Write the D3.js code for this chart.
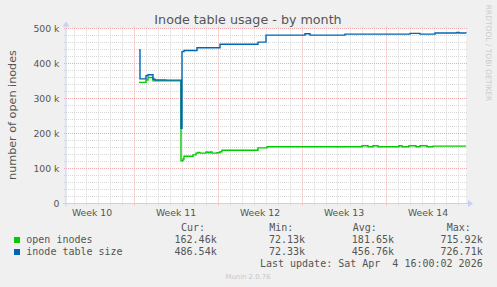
<!DOCTYPE html>
<html><head><meta charset="utf-8">
<script src="https://cdn.jsdelivr.net/npm/d3@7"></script>
<style>
html,body{margin:0;padding:0;background:#F0F0F0;}
svg{display:block;}
text{font-family:"DejaVu Sans",sans-serif;}
text.mono{font-family:"DejaVu Sans Mono",monospace;}
</style></head>
<body><svg id="c" width="497" height="287"></svg>
<script>
// ---- data ----
const title = "Inode table usage - by month";
const yLabel = "number of open inodes";
const timeDomain = ["2026-03-03T09:00:00Z", "2026-04-05T17:00:00Z"];
const weekLabelDates = ["2026-03-05T12:00:00Z","2026-03-12T12:00:00Z","2026-03-19T12:00:00Z","2026-03-26T12:00:00Z","2026-04-02T12:00:00Z"];
const weekLabels = ["Week 10","Week 11","Week 12","Week 13","Week 14"];
const yTicks = [0,100000,200000,300000,400000,500000];
const yTickLabels = ["0","100 k","200 k","300 k","400 k","500 k"];

const openTimes = ["2026-03-09T11:00Z","2026-03-10T01:00Z","2026-03-10T05:00Z","2026-03-10T15:00Z","2026-03-12T23:00Z","2026-03-13T03:00Z","2026-03-13T05:00Z","2026-03-13T23:00Z","2026-03-14T05:00Z","2026-03-14T09:00Z","2026-03-14T13:00Z","2026-03-15T01:00Z","2026-03-15T05:00Z","2026-03-15T09:00Z","2026-03-15T13:00Z","2026-03-15T23:00Z","2026-03-16T05:00Z","2026-03-16T09:00Z","2026-03-19T09:00Z","2026-03-20T03:00Z","2026-03-28T01:00Z","2026-03-28T13:00Z","2026-03-28T23:00Z","2026-03-29T09:00Z","2026-03-31T03:00Z","2026-03-31T09:00Z","2026-03-31T23:00Z","2026-04-01T13:00Z","2026-04-01T21:00Z","2026-04-02T11:00Z","2026-04-02T23:00Z","2026-04-05T17:00Z"];
const openValues = [346000,353000,360000,350500,122000,127000,135000,139000,144000,146000,144000,147000,145000,147000,144000,145000,148000,152000,159000,162000,165000,162000,165000,162000,165000,162000,165000,162000,165000,162000,164000,164000];

const sizeTimes = ["2026-03-09T11:00Z","2026-03-09T13:00Z","2026-03-10T01:00Z","2026-03-10T05:00Z","2026-03-10T15:00Z","2026-03-10T19:00Z","2026-03-11T17:00Z","2026-03-12T23:00Z","2026-03-13T01:00Z","2026-03-13T05:00Z","2026-03-14T07:00Z","2026-03-16T05:00Z","2026-03-19T09:00Z","2026-03-20T01:00Z","2026-03-23T07:00Z","2026-03-23T17:00Z","2026-03-26T15:00Z","2026-04-01T01:00Z","2026-04-01T21:00Z","2026-04-03T03:00Z","2026-04-04T23:00Z","2026-04-05T03:00Z","2026-04-05T17:00Z"];
const sizeValues = [439000,356000,365000,368000,355000,353000,352500,215000,434000,437000,445000,455000,461000,481000,485000,481000,484000,486000,484000,487000,489000,487000,486500];

const seriesNames = ["open inodes","inode table size"];
const seriesColors = ["#00CC00","#0066B3"];
const statHeaders = ["Cur:","Min:","Avg:","Max:"];
const statsOpen = ["162.46k","72.13k","181.65k","715.92k"];
const statsSize = ["486.54k","72.33k","456.76k","726.71k"];
const lastUpdate = "Last update: Sat Apr  4 16:00:02 2026";

// ---- drawing ----
const svg = d3.select("#c");
const L = 66, R = 466, T = 28.5, B = 203.5;
const x = d3.scaleUtc().domain(timeDomain.map(d=>new Date(d))).range([L,R]);
const y = d3.scaleLinear().domain([0,500000]).range([B,T]);

svg.append("rect").attr("x",L).attr("y",T).attr("width",R-L).attr("height",B-T).attr("fill","#ffffff");

const g = svg.append("g");
const minCol = "#d6d6d6", majCol = "#f0a8a8";
// minor grid
const days = d3.utcDay.range(x.domain()[0], x.domain()[1]).filter(d=>d.getUTCDay()!==1);
g.selectAll(".vmin").data(days).join("line")
  .attr("x1",d=>Math.round(x(d))+0.5).attr("x2",d=>Math.round(x(d))+0.5)
  .attr("y1",B+2).attr("y2",T-2).attr("stroke",minCol).attr("stroke-dasharray","1,1");
const minorY = d3.range(20000,500001,20000).filter(v=>v%100000!==0);
g.selectAll(".hmin").data(minorY).join("line")
  .attr("x1",L-2).attr("x2",R+2).attr("y1",d=>y(d)).attr("y2",d=>y(d))
  .attr("stroke",minCol).attr("stroke-dasharray","1,1");
// major grid
const mondays = d3.utcMonday.range(x.domain()[0], x.domain()[1]);
g.selectAll(".vmaj").data(mondays).join("line")
  .attr("x1",d=>Math.round(x(d))+0.5).attr("x2",d=>Math.round(x(d))+0.5)
  .attr("y1",B+2).attr("y2",T-2).attr("stroke",majCol).attr("stroke-dasharray","1,1");
g.selectAll(".hmaj").data(yTicks.filter(v=>v>0)).join("line")
  .attr("x1",L-2).attr("x2",R+2).attr("y1",d=>y(d)).attr("y2",d=>y(d))
  .attr("stroke",majCol).attr("stroke-dasharray","1,1");

// series
const line = d3.line().x(d=>x(d[0])).y(d=>y(d[1])).curve(d3.curveStepAfter);
const openData = openTimes.map((t,i)=>[new Date(t),openValues[i]]);
const sizeData = sizeTimes.map((t,i)=>[new Date(t),sizeValues[i]]);
svg.append("path").datum(openData).attr("d",line).attr("fill","none").attr("stroke",seriesColors[0]).attr("stroke-width",1.4);
svg.append("path").datum(sizeData).attr("d",line).attr("fill","none").attr("stroke",seriesColors[1]).attr("stroke-width",1.4);

// axes lines + arrows
const axCol = "#c8d0f6";
svg.append("line").attr("x1",L-3).attr("x2",R+3).attr("y1",B).attr("y2",B).attr("stroke",axCol);
svg.append("line").attr("x1",L).attr("x2",L).attr("y1",B+3).attr("y2",T-3).attr("stroke",axCol);
svg.append("path").attr("d",`M${R+2},${B-3.5}L${R+7},${B}L${R+2},${B+3.5}Z`).attr("fill",axCol);
svg.append("path").attr("d",`M${L-3.5},${T-2}L${L},${T-7}L${L+3.5},${T-2}Z`).attr("fill",axCol);

// axes (labels)
const xAxis = d3.axisBottom(x).tickValues(weekLabelDates.map(d=>new Date(d))).tickSize(0)
  .tickFormat((d,i)=>weekLabels[i]);
const xa = svg.append("g").attr("transform",`translate(0,${B})`).call(xAxis);
xa.select(".domain").remove();
xa.selectAll("text").attr("font-family","DejaVu Sans").attr("font-size","9.3px").attr("fill","#555").attr("dy",null).attr("y",12.5);

const yAxis = d3.axisLeft(y).tickValues(yTicks).tickSize(0).tickFormat((d,i)=>yTickLabels[i]);
const ya = svg.append("g").attr("transform",`translate(${L-6.5},0)`).call(yAxis);
ya.select(".domain").remove();
ya.selectAll("text").attr("font-family","DejaVu Sans").attr("font-size","9.3px").attr("fill","#555").attr("x",0).attr("dy","0.34em");

// title & labels
svg.append("text").attr("x",248).attr("y",24).attr("text-anchor","middle").attr("font-size","12.7px").attr("fill","#555").text(title);
svg.append("text").attr("transform","translate(15.5,115) rotate(-90)").attr("text-anchor","middle").attr("font-size","11.2px").attr("fill","#555").text(yLabel);
svg.append("text").attr("transform","translate(485.5,53) rotate(90)").attr("text-anchor","middle").attr("font-size","7.5px").attr("fill","#cccccc").text("RRDTOOL / TOBI OETIKER");

// legend
const hdrX = [181,269.3,352.7,446.7];
const valX = [216.7,305,394,482.7];
const lg = svg.append("g").attr("font-size","10px").attr("fill","#555");
statHeaders.forEach((h,i)=>lg.append("text").attr("class","mono").attr("x",hdrX[i]).attr("y",231).text(h));
[statsOpen,statsSize].forEach((row,r)=>{
  const yy = 243 + r*12;
  svg.append("rect").attr("x",14).attr("y",yy-6).attr("width",6).attr("height",6).attr("fill",seriesColors[r]);
  lg.append("text").attr("class","mono").attr("x",26.3).attr("y",yy).text(seriesNames[r]);
  row.forEach((v,i)=>lg.append("text").attr("class","mono").attr("x",valX[i]).attr("y",yy).attr("text-anchor","end").text(v));
});
lg.append("text").attr("class","mono").attr("x",482.7).attr("y",266.5).attr("text-anchor","end").style("white-space","pre").text(lastUpdate);
svg.append("text").attr("x",248).attr("y",279).attr("text-anchor","middle").attr("font-size","6.9px").attr("fill","#c8c8c8").text("Munin 2.0.76");
</script></body></html>
